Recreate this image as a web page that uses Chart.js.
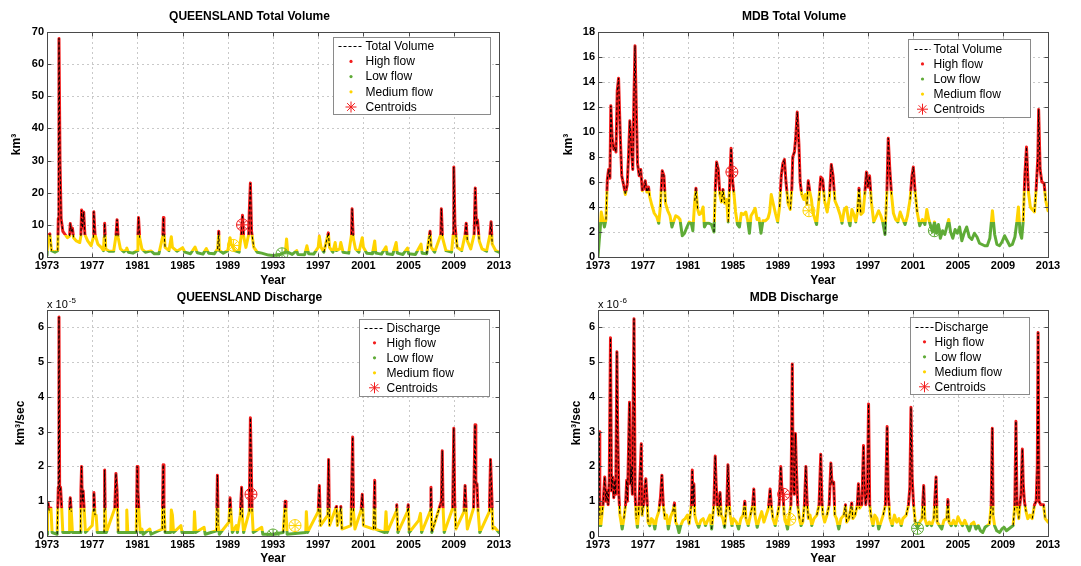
<!DOCTYPE html>
<html>
<head>
<meta charset="utf-8">
<script src="https://cdn.jsdelivr.net/npm/chart.js@4.4.1/dist/chart.umd.min.js"></script>
<style>
  html, body { margin: 0; padding: 0; background: #fff; }
  #wrap { position: relative; width: 1081px; height: 566px; overflow: hidden; }
  #wrap canvas { position: absolute; }
</style>
</head>
<body>
<div id="wrap">
  <canvas id="qldVol" width="540" height="290" style="left:0;top:0"></canvas>
  <canvas id="mdbVol" width="541" height="290" style="left:540px;top:0"></canvas>
  <canvas id="qldDis" width="540" height="276" style="left:0;top:290px"></canvas>
  <canvas id="mdbDis" width="541" height="276" style="left:540px;top:290px"></canvas>
</div>
<script>
// Tick labels
const yearTicks = [1973, 1977, 1981, 1985, 1989, 1993, 1997, 2001, 2005, 2009, 2013];
const qldVolTicks = [0, 10, 20, 30, 40, 50, 60, 70];
const mdbVolTicks = [0, 2, 4, 6, 8, 10, 12, 14, 16, 18];
const dischargeTicks = [0, 1, 2, 3, 4, 5, 6];

// class breaks [low/medium, medium/high]
const qldVolBreaks = [1.8, 7];
const mdbVolBreaks = [2.8, 5.3];
const qldDisBreaks = [0.15, 0.8];
const mdbDisBreaks = [0.33, 0.87];

// centroids, order: high, medium, low
const qldVolCentroids = [[1990.3, 10], [1989.5, 3.6], [1993.8, 1.0]];
const mdbVolCentroids = [[1984.9, 6.8], [1991.75, 3.7], [2002.9, 2.1]];
const qldDisCentroids = [[1991.05, 1.2], [1994.95, 0.3], [1993.0, 0.03]];
const mdbDisCentroids = [[1989.5, 1.2], [1990.05, 0.48], [2001.4, 0.22]];

// [year, km3]
const qldVolume = [
  [1973.0, 0.5], [1973.1, 6.8], [1973.25, 7.2], [1973.4, 2.0], [1973.7, 1.5], [1973.95, 2.0],
  [1974.0, 12], [1974.06, 68], [1974.15, 30], [1974.25, 12], [1974.4, 8], [1974.6, 7], [1974.8, 6],
  [1975.0, 6.5], [1975.06, 10.4], [1975.15, 8], [1975.25, 9], [1975.35, 6], [1975.6, 5], [1975.9, 4.5],
  [1976.0, 6.5], [1976.06, 14.6], [1976.15, 9], [1976.25, 14], [1976.35, 7], [1976.6, 5], [1976.9, 3.5],
  [1977.1, 6], [1977.14, 14.1], [1977.25, 7], [1977.5, 4], [1977.8, 3], [1978.0, 2],
  [1978.05, 6], [1978.1, 10.5], [1978.2, 2.5], [1978.5, 1.8], [1978.9, 1.8],
  [1979.1, 6.5], [1979.2, 11.6], [1979.3, 6], [1979.5, 2.5], [1979.8, 1.6],
  [1980.0, 2.2], [1980.06, 2.8], [1980.2, 1.5], [1980.6, 1.2],
  [1981.0, 2], [1981.05, 7], [1981.1, 12.3], [1981.2, 6], [1981.4, 2.5], [1981.7, 1.5],
  [1982.2, 1.9], [1982.5, 1.0], [1982.9, 1.0],
  [1983.25, 6.5], [1983.3, 12.3], [1983.35, 8], [1983.45, 3], [1983.8, 2],
  [1984.0, 6.3], [1984.1, 3], [1984.5, 1.8], [1985.0, 2.9], [1985.2, 1.5], [1985.7, 1.0],
  [1986.1, 3.1], [1986.3, 1.3], [1986.8, 0.9], [1987.1, 2.6], [1987.3, 1.2], [1987.8, 1.0],
  [1988.1, 2.5], [1988.2, 8], [1988.25, 2], [1988.6, 1.2],
  [1989.0, 2], [1989.2, 6], [1989.3, 4], [1989.6, 2], [1990.0, 1.5],
  [1990.2, 7], [1990.3, 13], [1990.4, 6.5], [1990.6, 3],
  [1990.85, 7], [1990.9, 14], [1991.0, 23], [1991.1, 8], [1991.3, 3], [1991.6, 1.5],
  [1992.0, 1.2], [1992.6, 0.6], [1993.0, 0.5], [1993.5, 0.6],
  [1994.1, 1.5], [1994.2, 5.6], [1994.3, 1.5], [1994.7, 0.8],
  [1995.1, 2], [1995.2, 0.8], [1995.8, 0.7], [1996.0, 3.5], [1996.15, 1.0], [1996.6, 0.9],
  [1997.0, 3], [1997.1, 6.5], [1997.25, 3], [1997.5, 1.5], [1997.9, 7.5], [1998.0, 3], [1998.3, 1.5],
  [1998.5, 4.5], [1998.6, 2], [1998.9, 2.5], [1999.0, 4.5], [1999.2, 1.5], [1999.7, 1.2],
  [1999.95, 7], [2000.0, 15], [2000.1, 6], [2000.3, 2.5], [2000.6, 1.5],
  [2000.9, 6], [2001.0, 3], [2001.3, 1.2], [2001.8, 1.0],
  [2002.0, 5], [2002.1, 1.2], [2002.6, 0.9], [2003.0, 3.2], [2003.1, 1], [2003.6, 0.8],
  [2003.9, 4.5], [2004.0, 1.2], [2004.5, 0.8], [2004.9, 2.8], [2005.0, 1], [2005.6, 0.8],
  [2006.1, 4], [2006.2, 1.2], [2006.6, 1], [2006.9, 8], [2007.0, 3], [2007.3, 1.5],
  [2007.85, 7], [2007.9, 15], [2008.0, 6], [2008.3, 2], [2008.8, 1.5],
  [2008.95, 7], [2009.0, 28], [2009.1, 10], [2009.3, 3], [2009.7, 2],
  [2010.0, 7], [2010.1, 10.5], [2010.2, 5], [2010.5, 2.5],
  [2010.8, 7], [2010.9, 21.5], [2011.0, 10], [2011.1, 11.5], [2011.25, 5], [2011.5, 2.5], [2011.9, 1.8],
  [2012.2, 7], [2012.3, 11], [2012.4, 4], [2012.7, 2], [2013.0, 1.5]
];

const mdbVolume = [
  [1973.0, 0], [1973.1, 1.2], [1973.2, 2.3], [1973.29, 3.6], [1973.43, 3.0], [1973.57, 2.4],
  [1973.71, 3.0], [1973.83, 6.2], [1973.94, 7.0], [1974.06, 6.3], [1974.14, 12.1], [1974.26, 9.5],
  [1974.4, 8.6], [1974.51, 8.8], [1974.6, 8.4], [1974.71, 13.3], [1974.83, 14.3], [1974.97, 10],
  [1975.11, 6.5], [1975.29, 5.7], [1975.43, 5.0], [1975.6, 5.8], [1975.71, 8.0], [1975.83, 10.9],
  [1975.94, 9.0], [1976.09, 7.0], [1976.2, 13.0], [1976.29, 16.9], [1976.4, 12], [1976.51, 7.5],
  [1976.66, 6.5], [1976.8, 7.0], [1976.94, 5.3], [1977.09, 5.5], [1977.2, 6.1], [1977.34, 5.2],
  [1977.49, 5.6], [1977.6, 4.8], [1977.77, 4.2], [1978.0, 3.5], [1978.23, 3.2], [1978.4, 2.7],
  [1978.54, 4.0], [1978.71, 6.9], [1978.86, 6.5], [1979.0, 4.3], [1979.2, 3.7], [1979.4, 3.3],
  [1979.57, 2.4], [1979.71, 2.8], [1979.91, 3.3], [1980.11, 3.2], [1980.29, 3.0], [1980.49, 1.7],
  [1980.69, 1.9], [1980.91, 2.4], [1981.11, 2.8], [1981.29, 2.7], [1981.43, 2.1], [1981.6, 4.5],
  [1981.71, 5.5], [1981.86, 3.8], [1982.0, 3.4], [1982.17, 3.5], [1982.34, 4.0], [1982.46, 2.4],
  [1982.63, 2.7], [1982.86, 2.7], [1983.09, 2.6], [1983.31, 2.0], [1983.43, 5.5], [1983.54, 7.6],
  [1983.69, 7.0], [1983.83, 5.0], [1983.97, 4.4], [1984.11, 5.4], [1984.26, 4.3], [1984.43, 4.6],
  [1984.57, 2.8], [1984.71, 6.0], [1984.83, 8.7], [1984.97, 6.0], [1985.09, 5.0], [1985.23, 3.6],
  [1985.4, 2.6], [1985.57, 2.4], [1985.74, 3.5], [1985.94, 3.4], [1986.14, 3.6], [1986.31, 2.9],
  [1986.46, 1.9], [1986.6, 3.3], [1986.8, 3.6], [1986.97, 3.9], [1987.14, 3.0], [1987.31, 3.1],
  [1987.49, 1.9], [1987.66, 2.9], [1987.89, 2.9], [1988.11, 3.1], [1988.26, 3.6], [1988.4, 5.0],
  [1988.57, 4.3], [1988.77, 3.5], [1988.97, 2.8], [1989.14, 4.0], [1989.29, 6.5], [1989.43, 7.5],
  [1989.57, 7.8], [1989.71, 6.0], [1989.89, 4.3], [1990.09, 3.8], [1990.23, 5.5], [1990.31, 8.0],
  [1990.46, 8.4], [1990.57, 9.5], [1990.71, 11.6], [1990.86, 9.0], [1990.97, 6.0], [1991.11, 5.0],
  [1991.29, 4.6], [1991.43, 5.0], [1991.57, 4.2], [1991.69, 6.1], [1991.83, 5.2], [1991.97, 4.6],
  [1992.09, 3.6], [1992.29, 3.0], [1992.43, 2.6], [1992.63, 4.5], [1992.8, 6.4], [1992.97, 6.2],
  [1993.14, 4.5], [1993.37, 3.6], [1993.57, 4.8], [1993.74, 7.4], [1993.89, 6.5], [1994.06, 4.5],
  [1994.29, 4.0], [1994.51, 3.4], [1994.69, 2.7], [1994.89, 3.8], [1995.09, 4.0], [1995.26, 3.0],
  [1995.4, 2.5], [1995.57, 3.8], [1995.74, 3.4], [1995.91, 2.8], [1996.06, 3.6], [1996.2, 5.5],
  [1996.37, 3.4], [1996.57, 3.6], [1996.71, 5.0], [1996.86, 6.8], [1997.0, 5.6], [1997.14, 6.5],
  [1997.31, 4.3], [1997.51, 2.8], [1997.71, 3.2], [1997.94, 3.7], [1998.14, 3.3], [1998.31, 2.8],
  [1998.51, 1.8], [1998.69, 5.5], [1998.8, 9.5], [1998.94, 7.0], [1999.09, 5.0], [1999.26, 3.5],
  [1999.46, 3.0], [1999.66, 2.8], [1999.86, 3.6], [2000.06, 3.1], [2000.29, 2.6], [2000.51, 3.3],
  [2000.74, 4.6], [2000.91, 6.5], [2001.03, 7.2], [2001.17, 5.4], [2001.37, 3.6], [2001.6, 2.5],
  [2001.83, 3.0], [2002.06, 2.6], [2002.23, 3.8], [2002.4, 3.0], [2002.57, 2.5], [2002.74, 2.0],
  [2002.91, 2.8], [2003.09, 1.9], [2003.26, 2.6], [2003.43, 1.5], [2003.63, 2.1], [2003.83, 1.8],
  [2004.0, 2.4], [2004.17, 3.0], [2004.34, 2.0], [2004.54, 1.5], [2004.74, 2.2], [2004.94, 1.9],
  [2005.14, 2.4], [2005.34, 1.3], [2005.54, 1.9], [2005.77, 2.4], [2006.0, 1.6], [2006.23, 1.4],
  [2006.46, 1.9], [2006.69, 1.6], [2006.91, 1.1], [2007.14, 1.0], [2007.37, 0.9], [2007.6, 0.9],
  [2007.83, 1.5], [2008.06, 3.7], [2008.26, 1.8], [2008.46, 1.0], [2008.69, 0.9], [2008.91, 1.2],
  [2009.14, 1.7], [2009.37, 1.3], [2009.6, 0.9], [2009.83, 1.0], [2010.06, 1.6], [2010.23, 2.8],
  [2010.37, 4.0], [2010.51, 2.0], [2010.66, 1.5], [2010.8, 2.9], [2010.94, 6.5], [2011.09, 8.8],
  [2011.26, 5.2], [2011.43, 4.0], [2011.6, 3.8], [2011.8, 3.6], [2011.95, 5.5], [2012.1, 8.0],
  [2012.17, 11.8], [2012.3, 7.0], [2012.45, 6.0], [2012.65, 5.9], [2012.8, 4.5], [2013.0, 3.7]
];

// [year, km3/sec x 1e-5]
const qldDischarge = [
  [1973.0, 0.05], [1973.05, 0.8], [1973.1, 0.95], [1973.2, 0.7], [1973.35, 0.8], [1973.45, 0.1], [1973.9, 0.05],
  [1974.0, 1.4], [1974.06, 6.3], [1974.12, 1.3], [1974.2, 1.4], [1974.3, 0.8], [1974.4, 0.1], [1974.95, 0.1],
  [1975.0, 0.75], [1975.06, 1.1], [1975.15, 0.7], [1975.25, 0.1], [1975.95, 0.1],
  [1976.0, 1.3], [1976.06, 2.0], [1976.12, 1.0], [1976.2, 1.3], [1976.3, 0.7], [1976.4, 0.1],
  [1977.0, 0.3], [1977.1, 0.7], [1977.15, 1.25], [1977.25, 0.6], [1977.35, 0.6], [1977.45, 0.1],
  [1978.05, 0.1], [1978.1, 1.9], [1978.15, 0.7], [1978.25, 0.1],
  [1979.0, 0.8], [1979.1, 1.8], [1979.2, 1.3], [1979.3, 0.1],
  [1980.0, 0.1], [1980.06, 0.75], [1980.15, 0.1], [1980.9, 0.1],
  [1980.98, 2.0], [1981.05, 1.3], [1981.12, 0.8], [1981.25, 0.1], [1981.4, 0.2], [1981.5, 0.05],
  [1982.1, 0.2], [1982.2, 0.05], [1983.2, 0.2], [1983.28, 2.05], [1983.35, 0.9], [1983.45, 0.1],
  [1983.95, 0.1], [1984.0, 0.75], [1984.1, 0.6], [1984.2, 0.1], [1984.85, 0.3], [1984.95, 0.1],
  [1986.0, 0.1], [1986.05, 0.7], [1986.15, 0.1], [1986.9, 0.25], [1987.0, 0.05],
  [1988.0, 0.15], [1988.08, 1.75], [1988.15, 0.3], [1988.25, 0.05],
  [1989.1, 0.4], [1989.2, 1.1], [1989.3, 0.6], [1989.4, 0.1], [1989.75, 0.3], [1989.85, 0.1],
  [1990.1, 0.6], [1990.22, 1.4], [1990.3, 0.5], [1990.4, 0.1],
  [1990.9, 0.7], [1991.0, 3.4], [1991.08, 2.0], [1991.15, 0.7], [1991.25, 0.1],
  [1992.0, 0.25], [1992.1, 0.05], [1993.0, 0.05], [1993.9, 0.1],
  [1994.08, 1.0], [1994.15, 0.7], [1994.25, 0.05], [1995.9, 0.1], [1995.95, 0.7], [1996.05, 0.1],
  [1997.0, 0.7], [1997.1, 1.45], [1997.2, 0.3], [1997.85, 0.6], [1997.92, 2.2], [1998.0, 0.3],
  [1998.55, 0.8], [1998.62, 0.85], [1998.7, 0.3], [1998.95, 0.7], [1999.0, 0.85], [1999.1, 0.2],
  [1999.9, 0.3], [2000.05, 2.85], [2000.12, 0.7], [2000.25, 0.2],
  [2000.8, 0.75], [2000.9, 1.2], [2001.0, 0.3], [2001.9, 0.2], [2002.0, 1.6], [2002.05, 0.2],
  [2002.9, 0.1], [2003.0, 0.7], [2003.1, 0.1], [2003.9, 0.7], [2003.95, 0.9], [2004.05, 0.1],
  [2004.9, 0.7], [2004.97, 0.9], [2005.05, 0.1], [2005.9, 0.45], [2006.05, 0.65], [2006.15, 0.1],
  [2006.9, 0.7], [2006.98, 1.4], [2007.05, 0.1], [2007.9, 1.0], [2007.98, 2.45], [2008.05, 0.8], [2008.15, 0.1],
  [2008.9, 0.8], [2009.0, 3.1], [2009.08, 1.0], [2009.18, 0.2],
  [2009.9, 0.7], [2010.0, 1.45], [2010.1, 0.7], [2010.2, 0.2],
  [2010.75, 0.8], [2010.88, 3.2], [2010.95, 1.5], [2011.05, 1.5], [2011.15, 0.7], [2011.3, 0.1],
  [2012.15, 0.7], [2012.25, 2.2], [2012.35, 1.3], [2012.45, 0.2], [2012.6, 0.25], [2013.0, 0.1]
];

// [year, km3/sec x 1e-6]
const mdbDischarge = [
  [1973.0, 0.3], [1973.06, 1.5], [1973.11, 3.0], [1973.16, 0.5], [1973.25, 0.3], [1973.35, 0.6],
  [1973.45, 0.9], [1973.6, 1.7], [1973.7, 1.0], [1973.8, 1.3], [1973.9, 0.9], [1974.0, 1.6],
  [1974.11, 5.7], [1974.2, 1.3], [1974.3, 1.7], [1974.4, 1.1], [1974.5, 1.6], [1974.58, 1.2],
  [1974.68, 5.3], [1974.75, 3.0], [1974.85, 1.2], [1974.95, 0.6], [1975.05, 0.4], [1975.15, 0.2],
  [1975.3, 0.5], [1975.45, 0.9], [1975.55, 1.6], [1975.62, 1.0], [1975.8, 3.85], [1975.88, 1.5],
  [1975.95, 2.0], [1976.05, 1.2], [1976.2, 6.25], [1976.3, 1.2], [1976.4, 0.5], [1976.5, 0.25],
  [1976.6, 0.6], [1976.85, 2.65], [1976.92, 0.6], [1977.05, 0.9], [1977.25, 1.65], [1977.35, 1.1],
  [1977.45, 0.4], [1977.6, 0.3], [1977.75, 0.5], [1977.9, 0.45], [1978.05, 0.2], [1978.2, 0.5],
  [1978.4, 0.7], [1978.55, 1.1], [1978.68, 1.75], [1978.8, 0.9], [1978.95, 0.5], [1979.1, 0.6],
  [1979.25, 0.2], [1979.45, 0.55], [1979.65, 0.7], [1979.8, 0.95], [1979.9, 0.4], [1980.05, 0.3],
  [1980.2, 0.1], [1980.35, 0.3], [1980.55, 0.45], [1980.75, 0.5], [1980.95, 0.6], [1981.1, 0.35],
  [1981.3, 0.9], [1981.38, 1.9], [1981.45, 0.9], [1981.52, 1.5], [1981.6, 0.6], [1981.75, 0.4],
  [1981.95, 0.25], [1982.15, 0.45], [1982.35, 0.5], [1982.55, 0.3], [1982.75, 0.45], [1982.95, 0.6],
  [1983.1, 0.2], [1983.3, 0.9], [1983.42, 2.3], [1983.5, 1.5], [1983.6, 0.9], [1983.72, 0.6],
  [1983.85, 1.25], [1983.95, 0.6], [1984.1, 0.5], [1984.25, 0.25], [1984.45, 0.9], [1984.55, 2.05],
  [1984.65, 1.0], [1984.75, 0.6], [1984.9, 0.3], [1985.05, 0.5], [1985.3, 0.4], [1985.5, 0.2],
  [1985.7, 0.5], [1985.9, 0.6], [1986.05, 1.0], [1986.15, 0.5], [1986.35, 0.3], [1986.55, 0.6],
  [1986.75, 0.9], [1986.85, 1.35], [1986.95, 0.6], [1987.15, 0.25], [1987.35, 0.5], [1987.55, 0.7],
  [1987.75, 0.4], [1987.95, 0.6], [1988.15, 0.8], [1988.3, 1.35], [1988.4, 0.9], [1988.55, 0.5],
  [1988.75, 0.3], [1988.95, 0.6], [1989.1, 0.9], [1989.25, 2.0], [1989.35, 1.3], [1989.45, 1.2],
  [1989.55, 0.6], [1989.7, 0.4], [1989.85, 0.2], [1990.0, 0.6], [1990.15, 0.9], [1990.27, 4.95],
  [1990.35, 1.5], [1990.45, 1.2], [1990.55, 2.95], [1990.62, 2.1], [1990.75, 0.9], [1990.9, 0.5],
  [1991.05, 0.3], [1991.2, 0.4], [1991.35, 0.9], [1991.48, 2.0], [1991.58, 1.0], [1991.7, 0.5],
  [1991.85, 0.6], [1992.0, 0.3], [1992.2, 0.5], [1992.45, 0.6], [1992.65, 0.9], [1992.8, 2.35],
  [1992.9, 1.0], [1993.0, 0.6], [1993.15, 0.4], [1993.35, 0.6], [1993.55, 0.9], [1993.7, 2.1],
  [1993.8, 1.5], [1993.95, 1.55], [1994.05, 0.6], [1994.2, 0.5], [1994.4, 0.2], [1994.6, 0.5],
  [1994.85, 0.6], [1995.0, 0.9], [1995.1, 0.4], [1995.3, 0.5], [1995.55, 0.95], [1995.65, 0.5],
  [1995.85, 0.6], [1996.05, 0.9], [1996.15, 1.5], [1996.25, 0.8], [1996.45, 0.9], [1996.6, 2.6],
  [1996.68, 1.5], [1996.8, 0.9], [1996.95, 1.4], [1997.05, 3.8], [1997.15, 0.9], [1997.3, 0.5],
  [1997.45, 0.3], [1997.6, 0.6], [1997.8, 0.5], [1997.95, 0.2], [1998.15, 0.4], [1998.35, 0.6],
  [1998.55, 0.9], [1998.7, 3.15], [1998.8, 1.2], [1998.95, 0.5], [1999.15, 0.3], [1999.35, 0.6],
  [1999.55, 0.4], [1999.75, 0.5], [1999.95, 0.3], [2000.1, 0.5], [2000.4, 0.6], [2000.6, 0.9],
  [2000.72, 1.4], [2000.82, 3.7], [2000.92, 1.7], [2001.05, 0.9], [2001.2, 0.4], [2001.4, 0.25],
  [2001.6, 0.4], [2001.8, 0.5], [2001.95, 1.45], [2002.05, 0.5], [2002.25, 0.3], [2002.45, 0.4],
  [2002.65, 0.3], [2002.85, 0.5], [2003.05, 1.7], [2003.15, 0.4], [2003.35, 0.3], [2003.55, 0.2],
  [2003.75, 0.45], [2004.0, 0.5], [2004.1, 1.05], [2004.2, 0.4], [2004.4, 0.3], [2004.6, 0.45],
  [2004.8, 0.3], [2005.0, 0.55], [2005.2, 0.4], [2005.4, 0.3], [2005.6, 0.45], [2005.8, 0.3],
  [2006.0, 0.15], [2006.2, 0.35], [2006.4, 0.4], [2006.6, 0.2], [2006.8, 0.3], [2007.0, 0.15],
  [2007.2, 0.1], [2007.4, 0.25], [2007.6, 0.3], [2007.8, 0.35], [2007.95, 0.9], [2008.05, 3.1],
  [2008.12, 0.6], [2008.25, 0.3], [2008.45, 0.15], [2008.7, 0.1], [2008.9, 0.2], [2009.1, 0.25],
  [2009.3, 0.15], [2009.5, 0.2], [2009.7, 0.25], [2009.9, 0.3], [2010.05, 0.9], [2010.15, 3.3],
  [2010.25, 0.8], [2010.4, 0.5], [2010.5, 0.9], [2010.6, 1.2], [2010.72, 2.5], [2010.8, 1.5],
  [2010.9, 1.0], [2011.05, 0.7], [2011.2, 0.5], [2011.4, 0.6], [2011.6, 0.5], [2011.8, 0.9],
  [2011.95, 1.0], [2012.05, 2.0], [2012.12, 5.85], [2012.2, 1.0], [2012.35, 0.9], [2012.6, 0.9],
  [2012.75, 0.5], [2013.0, 0.4]
];

const FONT = '"Liberation Sans", Arial, sans-serif';
const RED = '#f21c1c';
const YELLOW = '#ffd400';
const GREEN = '#5fab37';
const GRID = '#c9c9c9';
const classColors = [RED, YELLOW, GREEN];

// vertical gradient with hard stops so the trace takes the colour of its class
function flowGradient(chart, breaks) {
  const {ctx, chartArea, scales} = chart;
  if (!chartArea) return GREEN;
  const top = chartArea.top, bottom = chartArea.bottom, h = bottom - top;
  const pLow = (bottom - scales.y.getPixelForValue(breaks[0])) / h;
  const pHigh = (bottom - scales.y.getPixelForValue(breaks[1])) / h;
  const g = ctx.createLinearGradient(0, bottom, 0, top);
  g.addColorStop(0, GREEN);
  g.addColorStop(pLow, GREEN);
  g.addColorStop(pLow, YELLOW);
  g.addColorStop(pHigh, YELLOW);
  g.addColorStop(pHigh, RED);
  g.addColorStop(1, RED);
  return g;
}

function drawStar(ctx, x, y, r) {
  ctx.beginPath();
  for (let k = 0; k < 4; k++) {
    const a = k * Math.PI / 4;
    ctx.moveTo(x - r * Math.cos(a), y - r * Math.sin(a));
    ctx.lineTo(x + r * Math.cos(a), y + r * Math.sin(a));
  }
  ctx.stroke();
}

// matlab look: dotted grid, boxed axes, inner ticks, legend, exponent
const matlabFrame = {
  id: 'matlabFrame',
  beforeDatasetsDraw(chart) {
    const {ctx, chartArea: a, scales: {x, y}} = chart;
    ctx.save();
    ctx.strokeStyle = GRID;
    ctx.lineWidth = 1;
    ctx.setLineDash([2, 3]);
    ctx.beginPath();
    x.ticks.forEach(t => {
      const p = Math.round(x.getPixelForValue(t.value)) + 0.5;
      ctx.moveTo(p, a.top); ctx.lineTo(p, a.bottom);
    });
    y.ticks.forEach(t => {
      const p = Math.round(y.getPixelForValue(t.value)) + 0.5;
      ctx.moveTo(a.left, p); ctx.lineTo(a.right, p);
    });
    ctx.stroke();
    ctx.restore();
  },
  afterDraw(chart, args, o) {
    const {ctx, chartArea: a, scales: {x, y}} = chart;
    ctx.save();
    ctx.strokeStyle = '#4a4a4a';
    ctx.lineWidth = 1;
    const L0 = Math.round(a.left) + 0.5, T0 = Math.round(a.top) + 0.5;
    const R0 = Math.round(a.right) + 0.5, B0 = Math.round(a.bottom) + 0.5;
    ctx.strokeRect(L0, T0, R0 - L0, B0 - T0);
    ctx.beginPath();
    x.ticks.forEach(t => {
      const p = Math.round(x.getPixelForValue(t.value)) + 0.5;
      ctx.moveTo(p, B0); ctx.lineTo(p, B0 - 4);
      ctx.moveTo(p, T0); ctx.lineTo(p, T0 + 4);
    });
    y.ticks.forEach(t => {
      const p = Math.round(y.getPixelForValue(t.value)) + 0.5;
      ctx.moveTo(L0, p); ctx.lineTo(L0 + 4, p);
      ctx.moveTo(R0, p); ctx.lineTo(R0 - 4, p);
    });
    ctx.stroke();

    if (o.exponent) {
      ctx.fillStyle = '#000';
      ctx.textAlign = 'left';
      ctx.textBaseline = 'alphabetic';
      ctx.font = '11px ' + FONT;
      const bx = a.left, by = a.top - 2;
      ctx.fillText('x 10', bx, by);
      const w = ctx.measureText('x 10').width;
      ctx.font = '8px ' + FONT;
      ctx.fillText(o.exponent, bx + w + 1, by - 5);
    }

    const L = o.legend;
    const lx = Math.round(a.left + L.left) + 0.5, ly = Math.round(a.top + L.top) + 0.5;
    ctx.fillStyle = '#fff';
    ctx.fillRect(lx, ly, L.width, L.height);
    ctx.strokeStyle = '#8a8a8a';
    ctx.strokeRect(lx, ly, L.width, L.height);
    const rows = [o.lineLabel, 'High flow', 'Low flow', 'Medium flow', 'Centroids'];
    const dots = [null, RED, GREEN, YELLOW];
    ctx.font = '12px ' + FONT;
    ctx.textBaseline = 'middle';
    ctx.textAlign = 'left';
    rows.forEach((label, i) => {
      const cy = ly + L.firstRow + i * L.rowGap;
      const s0 = lx + L.sampleStart, s1 = lx + L.sampleEnd, sc = (s0 + s1) / 2;
      if (i === 0) {
        ctx.strokeStyle = '#000';
        ctx.setLineDash([3, 2]);
        ctx.beginPath();
        ctx.moveTo(s0, Math.round(cy) + 0.5);
        ctx.lineTo(s1, Math.round(cy) + 0.5);
        ctx.stroke();
        ctx.setLineDash([]);
      } else if (i < 4) {
        ctx.fillStyle = dots[i];
        ctx.beginPath();
        ctx.arc(sc, cy, 1.6, 0, Math.PI * 2);
        ctx.fill();
      } else {
        ctx.strokeStyle = RED;
        drawStar(ctx, sc, cy, 5.5);
      }
      ctx.fillStyle = '#000';
      ctx.fillText(label, lx + L.textX, cy + 0.5);
    });
    ctx.restore();
  }
};

function makeChart(id, s) {
  const line = s.series.map(p => ({x: p[0], y: p[1]}));
  const cents = s.centroids.map(p => ({x: p[0], y: p[1]}));
  const hi = s.breaks[1];
  // dashed trace shows through only on the steep high-flow stretches
  const dashVisible = c => {
    const high = c.p0.parsed.y > hi || c.p1.parsed.y > hi;
    const steep = Math.abs(c.p1.y - c.p0.y) > 2 * Math.abs(c.p1.x - c.p0.x);
    return high && steep ? '#000' : 'rgba(0,0,0,0)';
  };
  return new Chart(document.getElementById(id), {
    type: 'line',
    data: {
      datasets: [
        {
          label: s.lineLabel,
          data: line,
          borderColor: '#000',
          borderWidth: 1,
          borderDash: [3, 2],
          pointRadius: 0,
          segment: {borderColor: dashVisible},
          order: 1
        },
        {
          label: 'flow class',
          data: line,
          borderColor: c => flowGradient(c.chart, s.breaks),
          borderWidth: s.traceWidth,
          borderJoinStyle: 'round',
          borderCapStyle: 'round',
          pointRadius: 0,
          order: 2
        },
        {
          label: 'Centroids',
          data: cents,
          showLine: false,
          pointStyle: 'circle',
          pointRadius: 6,
          pointBorderWidth: 1,
          pointBorderColor: classColors,
          pointBackgroundColor: 'rgba(0,0,0,0)',
          order: 0
        },
        {
          label: 'Centroid marks',
          data: cents,
          showLine: false,
          pointStyle: 'star',
          pointRadius: 6,
          pointBorderWidth: 1,
          pointBorderColor: classColors,
          order: 0
        }
      ]
    },
    options: {
      responsive: false,
      animation: false,
      events: [],
      layout: {padding: {left: 0, right: s.padRight, top: 0, bottom: 0}},
      plugins: {
        legend: {display: false},
        tooltip: {enabled: false},
        title: {
          display: true,
          text: s.title,
          color: '#000',
          font: {family: FONT, size: 12, weight: 'bold'},
          padding: s.titlePad
        },
        matlabFrame: {
          lineLabel: s.lineLabel,
          exponent: s.exponent,
          legend: s.legend
        }
      },
      scales: {
        x: {
          type: 'linear',
          min: 1973,
          max: 2013,
          afterBuildTicks: sc => { sc.ticks = yearTicks.map(v => ({value: v})); },
          afterFit: sc => { sc.height = s.xAxisHeight; },
          grid: {display: false, drawTicks: false},
          border: {display: false},
          ticks: {
            color: '#000',
            padding: 2,
            maxRotation: 0,
            autoSkip: false,
            font: {family: FONT, size: 11, weight: 'bold'},
            callback: v => String(v)
          },
          title: {
            display: true,
            text: 'Year',
            color: '#000',
            font: {family: FONT, size: 12, weight: 'bold'},
            padding: {top: 0, bottom: s.yearPad}
          }
        },
        y: {
          type: 'linear',
          min: 0,
          max: s.yMax,
          afterBuildTicks: sc => { sc.ticks = s.yTicks.map(v => ({value: v})); },
          afterFit: sc => { sc.width = s.yAxisWidth; },
          grid: {display: false, drawTicks: false},
          border: {display: false},
          ticks: {
            color: '#000',
            padding: 3,
            font: {family: FONT, size: 11, weight: 'bold'},
            callback: v => String(v)
          },
          title: {
            display: true,
            text: s.yTitle,
            color: '#000',
            font: {family: FONT, size: 12, weight: 'bold'},
            padding: {top: s.yTitlePad, bottom: 0}
          }
        }
      }
    },
    plugins: [matlabFrame]
  });
}

makeChart('qldVol', {
  title: 'QUEENSLAND Total Volume', lineLabel: 'Total Volume', yTitle: 'km³',
  series: qldVolume, centroids: qldVolCentroids, breaks: qldVolBreaks,
  yMax: 70, yTicks: qldVolTicks, traceWidth: 3,
  padRight: 41, yAxisWidth: 47, xAxisHeight: 33, yearPad: 2, yTitlePad: 9,
  titlePad: {top: 9, bottom: 8.6},
  legend: {left: 286, top: 5, width: 157, height: 77, firstRow: 8.7, rowGap: 15.2, sampleStart: 5, sampleEnd: 30, textX: 32}
});

makeChart('mdbVol', {
  title: 'MDB Total Volume', lineLabel: 'Total Volume', yTitle: 'km³',
  series: mdbVolume, centroids: mdbVolCentroids, breaks: mdbVolBreaks,
  yMax: 18, yTicks: mdbVolTicks, traceWidth: 3,
  padRight: 33, yAxisWidth: 58, xAxisHeight: 33, yearPad: 2, yTitlePad: 21,
  titlePad: {top: 9, bottom: 8.6},
  legend: {left: 310, top: 7, width: 122, height: 78, firstRow: 9.3, rowGap: 15.1, sampleStart: 6, sampleEnd: 22, textX: 25}
});

makeChart('qldDis', {
  title: 'QUEENSLAND Discharge', lineLabel: 'Discharge', yTitle: 'km³/sec', exponent: '-5',
  series: qldDischarge, centroids: qldDisCentroids, breaks: qldDisBreaks,
  yMax: 6.5, yTicks: dischargeTicks, traceWidth: 3,
  padRight: 41, yAxisWidth: 47, xAxisHeight: 30, yearPad: 0, yTitlePad: 13,
  titlePad: {top: 0, bottom: 5.6},
  legend: {left: 312, top: 9, width: 130, height: 77, firstRow: 8.3, rowGap: 15, sampleStart: 5, sampleEnd: 25, textX: 27}
});

makeChart('mdbDis', {
  title: 'MDB Discharge', lineLabel: 'Discharge', yTitle: 'km³/sec', exponent: '-6',
  series: mdbDischarge, centroids: mdbDisCentroids, breaks: mdbDisBreaks,
  yMax: 6.5, yTicks: dischargeTicks, traceWidth: 3,
  padRight: 33, yAxisWidth: 58, xAxisHeight: 30, yearPad: 0, yTitlePad: 29,
  titlePad: {top: 0, bottom: 5.6},
  legend: {left: 312, top: 7, width: 119, height: 77, firstRow: 9.3, rowGap: 15, sampleStart: 5, sampleEnd: 23, textX: 24}
});
</script>
</body>
</html>
